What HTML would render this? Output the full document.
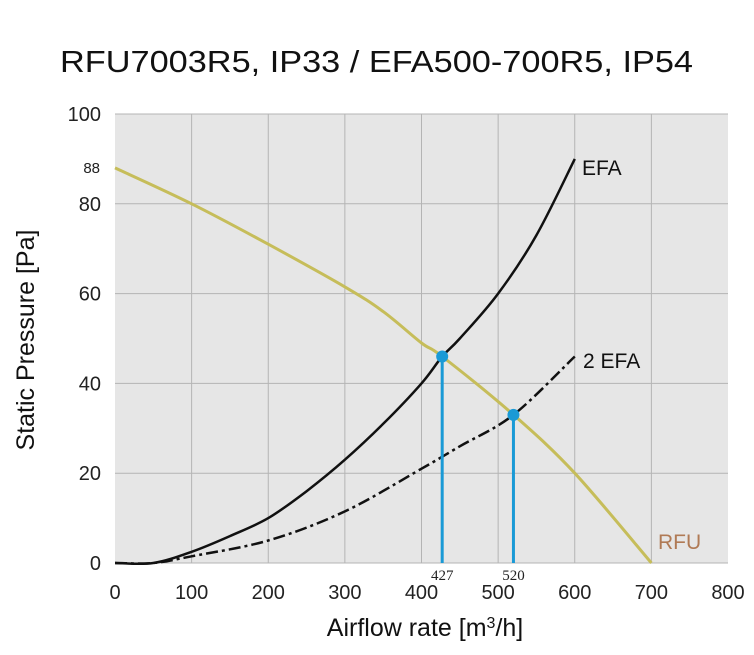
<!DOCTYPE html>
<html><head><meta charset="utf-8"><style>
body{margin:0;background:#fff;width:754px;height:650px;overflow:hidden;font-family:"Liberation Sans",sans-serif}
</style></head><body>
<svg width="754" height="650" font-family="Liberation Sans, sans-serif">
<text x="60" y="72" textLength="633" lengthAdjust="spacingAndGlyphs" font-size="31" fill="#111">RFU7003R5, IP33 / EFA500-700R5, IP54</text>
<rect x="115" y="114" width="613" height="449" fill="#e6e6e6"/>
<g id="grid"></g>
<g id="axes"></g>
<g id="series"></g>
<text x="425" y="636" text-anchor="middle" font-size="25" fill="#111">Airflow rate [m<tspan baseline-shift="super" font-size="16">3</tspan>/h]</text>
<text transform="translate(34,340) rotate(-90)" text-anchor="middle" font-size="25" fill="#111">Static Pressure [Pa]</text>
<text x="582" y="175" font-size="21" fill="#111">EFA</text>
<text x="583" y="368" font-size="21" fill="#111">2 EFA</text>
<text x="658" y="549" font-size="21" fill="#b07a55">RFU</text>
</svg>
<script>
const xTicks=[0,100,200,300,400,500,600,700,800];
const yTicks=[0,20,40,60,80,100];
const rfuX=[0,100,200,300,350,400,427,520,600,700];
const rfuY=[88,80,71,61.5,56,49,46,33,20,0];
const efaX=[0,50,100,150,200,250,300,350,400,427,450,500,550,600];
const efaY=[0,0,2.5,6,10,16,23,31,40,46,50,60,73,90];
const efa2X=[0,50,100,200,300,400,450,520,600];
const efa2Y=[0,0,1.5,5,11.5,21,26,33,46];
const opX=[427,520];
const opY=[46,33];
const X=v=>115+v*613/800, Y=v=>563-v*449/100;
const ns="http://www.w3.org/2000/svg";
function mk(t,a,p){const e=document.createElementNS(ns,t);for(const k in a)e.setAttribute(k,a[k]);document.getElementById(p).appendChild(e);return e;}
xTicks.forEach(v=>{if(v>0&&v<800){const l=mk('line',{x1:X(v),x2:X(v),y1:114,y2:563,stroke:'#b4b4b4','stroke-width':1},'grid');

}
const t=mk('text',{x:X(v),y:599,'text-anchor':'middle','font-size':20,fill:'#222'},'axes');t.textContent=v;

});
yTicks.forEach(v=>{const l=mk('line',{x1:115,x2:728,y1:Y(v),y2:Y(v),stroke:'#b4b4b4','stroke-width':1},'grid');


const t=mk('text',{x:101,y:Y(v)+7,'text-anchor':'end','font-size':20,fill:'#222'},'axes');t.textContent=v;

});
const t88=mk('text',{x:100,y:Y(88)+5,'text-anchor':'end','font-size':15,fill:'#222'},'axes');t88.textContent='88';


function path(xs,ys){
  const P=xs.map((x,i)=>[X(x),Y(ys[i])]);
  let d='M'+P[0][0].toFixed(1)+','+P[0][1].toFixed(1);
  for(let i=0;i<P.length-1;i++){
    const p0=P[i-1]||P[i],p1=P[i],p2=P[i+1],p3=P[i+2]||P[i+1];
    const c1=[p1[0]+(p2[0]-p0[0])/6,p1[1]+(p2[1]-p0[1])/6],c2=[p2[0]-(p3[0]-p1[0])/6,p2[1]-(p3[1]-p1[1])/6];
    d+=' C'+c1.map(n=>n.toFixed(1))+' '+c2.map(n=>n.toFixed(1))+' '+p2.map(n=>n.toFixed(1));
  }
  return d;}
const r=mk('path',{d:path(rfuX,rfuY),fill:'none',stroke:'#c6bd5a','stroke-width':3},'series');


const e=mk('path',{d:path(efaX,efaY),fill:'none',stroke:'#111','stroke-width':2.5},'series');


const e2=mk('path',{d:path(efa2X,efa2Y),fill:'none',stroke:'#111','stroke-width':2.5,'stroke-dasharray':'12,4,3,4'},'series');


opX.forEach((v,i)=>{const l=mk('line',{x1:X(v),x2:X(v),y1:Y(opY[i]),y2:563,stroke:'#1a9ad6','stroke-width':3},'series');


const c=mk('circle',{cx:X(v),cy:Y(opY[i]),r:6,fill:'#1a9ad6'},'series');


const t=mk('text',{x:X(v),y:580,'text-anchor':'middle','font-size':15,'font-family':'Liberation Serif, serif',fill:'#222'},'series');t.textContent=v;

});
</script>
</body></html>
